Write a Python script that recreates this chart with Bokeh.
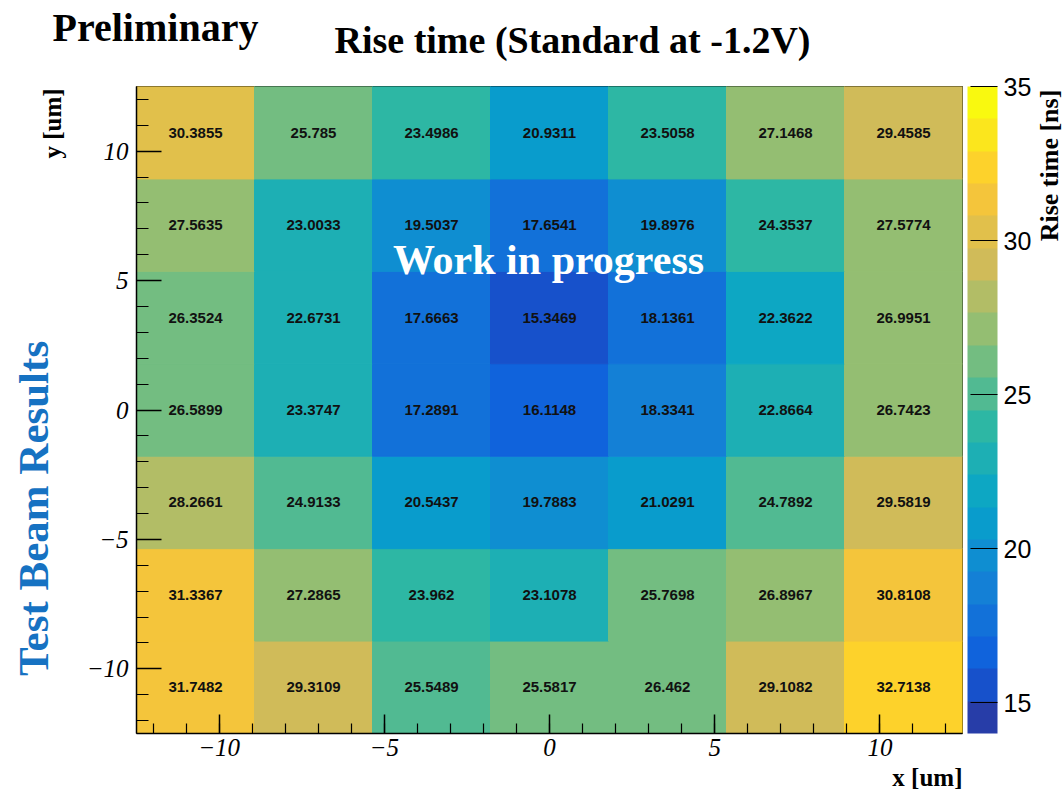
import numpy as np
from bokeh.plotting import figure
from bokeh.models import (ColumnDataSource, LinearColorMapper, ColorBar,
                          FixedTicker, Label, Range1d, Title)
from bokeh.layouts import row, column
from bokeh.transform import transform
from bokeh.core.properties import value
from bokeh.embed import file_html
from bokeh.resources import INLINE

# ---------------- data ----------------
# histogram binning (um)
x_min, x_max, n_x = -12.5, 12.5, 7
y_min, y_max, n_y = -12.5, 12.5, 7

# rise time [ns]; one list per y-bin (top row first), columns left -> right
rise_row_top = [30.3855, 25.785, 23.4986, 20.9311, 23.5058, 27.1468, 29.4585]
rise_row_6 = [27.5635, 23.0033, 19.5037, 17.6541, 19.8976, 24.3537, 27.5774]
rise_row_5 = [26.3524, 22.6731, 17.6663, 15.3469, 18.1361, 22.3622, 26.9951]
rise_row_4 = [26.5899, 23.3747, 17.2891, 16.1148, 18.3341, 22.8664, 26.7423]
rise_row_3 = [28.2661, 24.9133, 20.5437, 19.7883, 21.0291, 24.7892, 29.5819]
rise_row_2 = [31.3367, 27.2865, 23.962, 23.1078, 25.7698, 26.8967, 30.8108]
rise_row_bottom = [31.7482, 29.3109, 25.5489, 25.5817, 26.462, 29.1082, 32.7138]

z_min, z_max, n_levels = 14.0, 35.0, 20

x_ticks = [-10, -5, 0, 5, 10]
y_ticks = [-10, -5, 0, 5, 10]
z_ticks = [15, 20, 25, 30, 35]
tick_label_overrides = {-10: "\u221210", -5: "\u22125"}

title_text = "Rise time (Standard at -1.2V)"
x_title = "x [um]"
y_title = "y [um]"
z_title = "Rise time [ns]"

# ---------------- palette (ROOT kBird, 20 contour levels) ----------------
bird_stops = [0.0, 0.125, 0.25, 0.375, 0.5, 0.625, 0.75, 0.875, 1.0]
bird_red = [0.2082, 0.0592, 0.0780, 0.0232, 0.1802, 0.5301, 0.8186, 0.9956, 0.9764]
bird_green = [0.1664, 0.3599, 0.5041, 0.6419, 0.7178, 0.7492, 0.7328, 0.7862, 0.9832]
bird_blue = [0.5293, 0.8684, 0.8385, 0.7914, 0.6425, 0.4662, 0.3499, 0.1968, 0.0539]
palette = []
for k in range(n_levels):
    pos = int((k + 0.99) * 255 / n_levels) / 255.0
    r = np.interp(pos, bird_stops, bird_red)
    g = np.interp(pos, bird_stops, bird_green)
    b = np.interp(pos, bird_stops, bird_blue)
    palette.append("#%02x%02x%02x" % (int(round(r * 255)), int(round(g * 255)), int(round(b * 255))))

mapper = LinearColorMapper(palette=palette, low=z_min, high=z_max)

# ---------------- cells ----------------
rows_bottom_up = [rise_row_bottom, rise_row_2, rise_row_3, rise_row_4,
                  rise_row_5, rise_row_6, rise_row_top]
x_edges = np.linspace(x_min, x_max, n_x + 1)
y_edges = np.linspace(y_min, y_max, n_y + 1)
cells = dict(left=[], right=[], bottom=[], top=[], xc=[], yc=[], z=[], label=[])
for j, row_vals in enumerate(rows_bottom_up):
    for i, v in enumerate(row_vals):
        cells["left"].append(x_edges[i])
        cells["right"].append(x_edges[i + 1])
        cells["bottom"].append(y_edges[j])
        cells["top"].append(y_edges[j + 1])
        cells["xc"].append(0.5 * (x_edges[i] + x_edges[i + 1]))
        cells["yc"].append(0.5 * (y_edges[j] + y_edges[j + 1]))
        cells["z"].append(v)
        cells["label"].append(format(v, "g"))
src = ColumnDataSource(cells)

# ---------------- page geometry ----------------
W, H = 1064, 792
HEAD = 66            # header strip height
FOOT = 30            # footer strip height
LEFT_W = 80          # left strip (rotated titles)
RIGHT_W = 30         # right strip (colour-bar title)
FL, FR, FT, FB = 136, 962, 86, 733   # main frame edges on the page
MAIN_W = W - LEFT_W - RIGHT_W
BODY_H = H - HEAD - FOOT
BODY_TOP = HEAD
BODY_BOT = H - FOOT
BASE_SHIFT = 0.32    # alphabetic-baseline correction (fraction of font size)


def blank(width, height):
    f = figure(width=width, height=height, output_backend="svg", toolbar_location=None,
               title=None, x_range=Range1d(0, 1), y_range=Range1d(0, 1),
               min_border=0, x_axis_location=None, y_axis_location=None)
    f.outline_line_color = None
    f.grid.visible = False
    f.background_fill_color = "white"
    f.border_fill_color = "white"
    return f


def hlab(f, text, X, Ybase, size, fig_left, fig_bottom, align="left", color="black"):
    """horizontal label; X / Ybase in page pixels (Ybase = wanted baseline)."""
    anchor = Ybase - BASE_SHIFT * size
    f.add_layout(Label(x=X - fig_left, y=fig_bottom - anchor, x_units="screen",
                       y_units="screen", text=text, text_font="Liberation Serif",
                       text_font_style="bold", text_font_size=f"{size}px",
                       text_color=color, text_align=align, text_baseline="alphabetic"))


def vlab(f, text, Xc, Yc, size, fig_left, fig_bottom, color="black"):
    """text rotated 90 deg (reading upwards), centred on page point (Xc, Yc)."""
    f.add_layout(Label(x=Xc - fig_left, y=fig_bottom - Yc, x_units="screen",
                       y_units="screen", text=text, text_font="Liberation Serif",
                       text_font_style="bold", text_font_size=f"{size}px",
                       text_color=color, text_align="center", text_baseline="middle",
                       angle=np.pi / 2))


# header
head = blank(W, HEAD)
hlab(head, "Preliminary", 52, 40, 40, 0, HEAD)
hlab(head, title_text, 572, 52, 38, 0, HEAD, align="center")

# side strips: their frames are aligned with the main frame (page y 86..733)
left = blank(LEFT_W, BODY_H)
vlab(left, "Test Beam Results", 33, 508, 43, 0, FB, color="#1672c2")
vlab(left, y_title, 52, 123, 25, 0, FB)

right = blank(RIGHT_W, BODY_H)
vlab(right, z_title, 1049, 165, 26, W - RIGHT_W, FB)

# footer
foot = blank(W, FOOT)
hlab(foot, x_title, 962, 785, 25, 0, H, align="right")

# main plot
p = figure(width=MAIN_W, height=BODY_H, x_range=Range1d(x_min, x_max),
           y_range=Range1d(y_min, y_max), output_backend="svg", toolbar_location=None,
           title=None, min_border_left=FL - LEFT_W, min_border_right=(W - RIGHT_W) - FR,
           min_border_top=FT - BODY_TOP, min_border_bottom=BODY_BOT - FB)
p.background_fill_color = "white"
p.border_fill_color = "white"
p.outline_line_color = "black"
p.outline_line_width = 1
p.grid.visible = False

p.quad(left="left", right="right", bottom="bottom", top="top", source=src,
       fill_color=transform("z", mapper), line_color=transform("z", mapper), line_width=1)
p.text(x="xc", y="yc", text="label", source=src, text_font=value("Liberation Sans"),
       text_font_style="bold", text_font_size="15px", text_align="center",
       text_baseline="middle", text_color="#111111")

for ax, ticks in ((p.xaxis, x_ticks), (p.yaxis, y_ticks)):
    ax.ticker = FixedTicker(ticks=ticks, minor_ticks=list(range(-12, 13)))
    ax.major_label_overrides = tick_label_overrides
    ax.major_label_text_font = "Liberation Serif"
    ax.major_label_text_font_style = "italic"
    ax.major_label_text_font_size = "25px"
    ax.major_label_text_color = "black"
    ax.axis_line_color = "black"
    ax.axis_line_width = 1.5
    ax.major_tick_line_color = "black"
    ax.minor_tick_line_color = "black"
    ax.major_tick_line_width = 1.5
    ax.minor_tick_line_width = 1.2
    ax.major_tick_out = 0
    ax.minor_tick_out = 0
p.xaxis.major_tick_in = 19
p.xaxis.minor_tick_in = 10
p.xaxis.major_label_standoff = 5
p.yaxis.major_tick_in = 25
p.yaxis.minor_tick_in = 12
p.yaxis.major_label_standoff = 8

# small spacer so the colour bar sits a few pixels right of the frame
p.add_layout(Title(text=" ", text_font_size="1px", standoff=2), "right")
cb = ColorBar(color_mapper=mapper, width=30, padding=0, margin=0,
              orientation="vertical", ticker=FixedTicker(ticks=z_ticks),
              major_label_text_font="Liberation Sans", major_label_text_font_size="25px",
              major_label_text_color="black", label_standoff=6,
              major_tick_in=27, major_tick_out=0, major_tick_line_color="black",
              major_tick_line_width=1.2, minor_tick_line_color=None,
              bar_line_color=None, border_line_color=None, background_fill_alpha=0)
p.add_layout(cb, "right")

hlab(p, "Work in progress", 548, 273, 42, FL, FB, align="center", color="white")

layout = column(head, row(left, p, right), foot)
open("out.html", "w").write(file_html(layout, INLINE))
